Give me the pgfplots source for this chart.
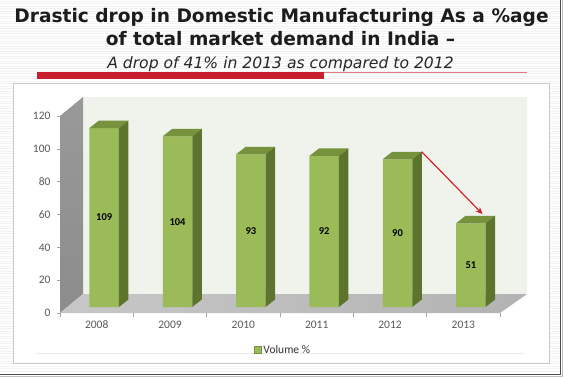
\documentclass[border=0pt]{standalone}
\usepackage{pgfplots}
\pgfplotsset{compat=1.18}
\usepackage{pgfplotstable}
\usepackage{fontspec}
\setmainfont{Carlito}
\newfontfamily\titlefont{DejaVu Sans}
\usetikzlibrary{arrows.meta}
\definecolor{barfront}{RGB}{155,187,89}
\definecolor{bartop}{RGB}{118,146,60}
\definecolor{barside}{RGB}{92,116,46}
\definecolor{backwall}{RGB}{240,243,236}
\definecolor{ticklab}{RGB}{89,89,89}
\definecolor{titlec}{RGB}{28,28,30}
\definecolor{redbar}{RGB}{200,30,45}
\definecolor{arrowred}{RGB}{212,20,30}

\pgfplotstableread{
x v
0 109
1 104
2 93
3 92
4 90
5 51
}\datatable

\begin{document}
\begin{tikzpicture}
\useasboundingbox (0pt,0pt) rectangle (564pt,-378pt);
\begin{scope}[x=1pt,y=1pt]
\fill[white] (0,0) rectangle (564,-378);
% striped slide background
\foreach \yy in {1,3.5,...,373} \draw[black!5, line width=0.7pt] (0,-\yy) -- (560,-\yy);
% slide shadow border
\draw[black!70, line width=1.6pt] (0,-374.5) -- (560.5,-374.5) -- (560.5,0);
\draw[black!25, line width=1pt] (0,-376.5) -- (562.5,-376.5) -- (562.5,0);
% titles
\node[anchor=base, font=\titlefont\bfseries\fontsize{18.6}{21}\selectfont, text=titlec, inner sep=0] at (281.5,-22.7) {Drastic drop in Domestic Manufacturing As a \%age};
\node[anchor=base, font=\titlefont\bfseries\fontsize{18.6}{21}\selectfont, text=titlec, inner sep=0] at (280.5,-45) {of total market demand in India –};
\node[anchor=base, font=\titlefont\itshape\fontsize{15.6}{18}\selectfont, text=black!85, inner sep=0] at (280.5,-68) {A drop of 41\% in 2013 as compared to 2012};
% red bar
\draw[redbar!60, line width=0.6pt] (37,-72) -- (527,-72);
\fill[redbar] (37,-72) rectangle (324,-79);
% chart frame
\filldraw[fill=white, draw=black!22, line width=0.8pt] (13,-83) rectangle (549,-363);
\draw[black!8, line width=0.6pt] (35,-353) -- (525,-353);
\end{scope}

% ---------- back axis: walls, floor, ticks ----------
\begin{axis}[
  at={(60pt,-313pt)}, anchor=south west,
  scale only axis, width=440pt, height=197pt,
  xmin=-0.5, xmax=5.5, ymin=0, ymax=120,
  clip=false,
  axis x line*=bottom, axis y line*=left,
  axis line style={draw=none},
  tick align=outside,
  xtick={0,1,2,3,4,5},
  xticklabels={2008,2009,2010,2011,2012,2013},
  major x tick style={draw=none},
  minor xtick={-0.5,0.5,1.5,2.5,3.5,4.5,5.5},
  minor x tick style={black!35, line width=0.6pt},
  minor tick length=4pt,
  ytick={0,20,40,60,80,100,120},
  ytick style={black!35, line width=0.6pt},
  major tick length=3pt,
  /pgf/number format/assume math mode=true,
  ticklabel style={font=\fontsize{11.5}{13}\selectfont, text=ticklab},
  yticklabel style={xshift=-3pt},
  xticklabel style={yshift=-1.5pt},
]
% back wall
\fill[backwall] ([shift={(23pt,19pt)}]rel axis cs:0,0) rectangle ([shift={(27pt,19pt)}]rel axis cs:1,1);
% left wall
\shade[top color=black!40, bottom color=black!45]
  (rel axis cs:0,0) -- (rel axis cs:0,1) -- ([shift={(23pt,19pt)}]rel axis cs:0,1) -- ([shift={(23pt,19pt)}]rel axis cs:0,0) -- cycle;
% floor
\shade[left color=black!22, right color=black!30]
  (rel axis cs:0,0) -- (rel axis cs:1,0) -- ([shift={(27pt,19pt)}]rel axis cs:1,0) -- ([shift={(23pt,19pt)}]rel axis cs:0,0) -- cycle;
\addplot[draw=none, forget plot] coordinates {(0,0)};
\end{axis}

% ---------- bar axis (front plane of the bars) ----------
\begin{axis}[
  at={(67.5pt,-307pt)}, anchor=south west,
  scale only axis, width=440pt, height=197pt,
  xmin=-0.5, xmax=5.5, ymin=0, ymax=120,
  axis lines=none, clip=false,
  /pgf/number format/assume math mode=true,
  legend style={at={(axis description cs:0.49,-0.218)}, anchor=center, draw=none, fill=none,
    font=\fontsize{11.5}{13}\selectfont, text=black!80, inner sep=1pt},
  legend image code/.code={\fill[barfront, draw=bartop, line width=0.3pt] (0pt,-3.3pt) rectangle (7pt,3.7pt);},
]
\addplot[ybar, bar width=29.5pt, bar shift=0pt, fill=barfront, draw=none] table[x=x, y=v]{\datatable};
\addlegendentry{Volume \%}
\pgfplotsinvokeforeach{0,1,2,3,4,5}{
  \pgfplotstablegetelem{#1}{v}\of\datatable
  \edef\val{\pgfplotsretval}
  \edef\temp{%
    \noexpand\fill[bartop] ([xshift=-14.75pt]axis cs:#1,\val) -- ([xshift=14.75pt]axis cs:#1,\val)
      -- ([xshift=24.25pt,yshift=7.5pt]axis cs:#1,\val) -- ([xshift=-5.25pt,yshift=7.5pt]axis cs:#1,\val) -- cycle;
    \noexpand\fill[barside] ([xshift=14.75pt]axis cs:#1,0) -- ([xshift=14.75pt]axis cs:#1,\val)
      -- ([xshift=24.25pt,yshift=7.5pt]axis cs:#1,\val) -- ([xshift=24.25pt,yshift=7.5pt]axis cs:#1,0) -- cycle;
  }
  \temp
}
\addplot[draw=none, only marks, mark=*, mark size=0pt, forget plot,
  nodes near coords, point meta=explicit,
  every node near coord/.append style={anchor=center, font=\bfseries\fontsize{10.5}{12}\selectfont, text=black}]
  table[x=x, y expr=\thisrow{v}/2, meta=v]{\datatable};
% red arrow from 2012 to 2013
\draw[arrowred, line width=1.1pt, -{Stealth[length=7pt,width=6pt]}]
  ([xshift=24.25pt,yshift=7.5pt]axis cs:4,90) -- (axis cs:5.16,56.6);
\end{axis}
\end{tikzpicture}
\end{document}
